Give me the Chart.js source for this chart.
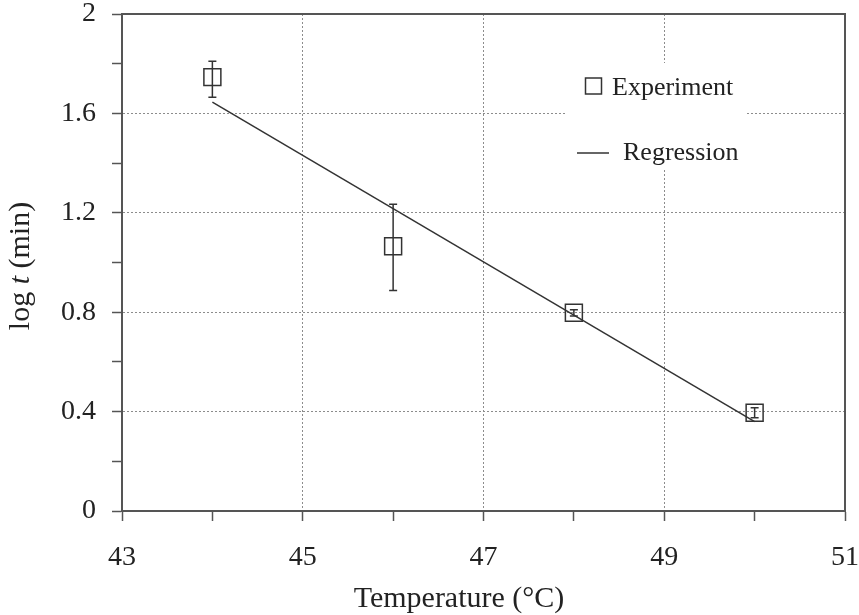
<!DOCTYPE html>
<html lang="en">
<head>
    <meta charset="UTF-8">
    <title>log t vs Temperature</title>
    <script src="https://cdn.jsdelivr.net/npm/chart.js"></script>
    <style>
        html, body { margin: 0; padding: 0; background: #fff; }
        .chart-container { width: 859px; height: 615px; }
    </style>
</head>
<body>
    <div class="chart-container">
        <canvas id="myChart"></canvas>
    </div>

    <script>
        // Datos
        const temps = [44, 46, 48, 50];
        const logT = [1.746, 1.065, 0.798, 0.395];
        const errLow = [1.665, 0.887, 0.785, 0.375];
        const errHigh = [1.81, 1.234, 0.81, 0.415];
        const regTemps = [44, 50];
        const regLogT = [1.645, 0.36];
        const xLabelTicks = [43, 45, 47, 49, 51];
        const yLabelTicks = [0, 0.4, 0.8, 1.2, 1.6, 2];
        const legendLabels = ['Experiment', 'Regression'];

        const serif = "'Liberation Serif', 'Times New Roman', serif";
        const ink = '#333';
        const axisColor = '#555';
        const gridColor = '#8c8c8c';

        const isIn = (list, v) => list.some(t => Math.abs(t - v) < 1e-6);

        // Barras de error
        const errorBars = {
            id: 'errorBars',
            afterDatasetsDraw(chart) {
                const { ctx, scales: { x, y } } = chart;
                ctx.save();
                ctx.strokeStyle = ink;
                ctx.lineWidth = 1.5;
                temps.forEach((t, i) => {
                    const px = x.getPixelForValue(t);
                    const top = y.getPixelForValue(errHigh[i]);
                    const bot = y.getPixelForValue(errLow[i]);
                    ctx.beginPath();
                    ctx.moveTo(px, top); ctx.lineTo(px, bot);
                    ctx.moveTo(px - 4, top); ctx.lineTo(px + 4, top);
                    ctx.moveTo(px - 4, bot); ctx.lineTo(px + 4, bot);
                    ctx.stroke();
                });
                ctx.restore();
            }
        };

        // Leyenda, marco y titulos de ejes
        const decorations = {
            id: 'decorations',
            afterDraw(chart) {
                const { ctx, chartArea: a } = chart;
                ctx.save();

                // marco superior y derecho
                ctx.strokeStyle = axisColor;
                ctx.lineWidth = 2;
                ctx.beginPath();
                ctx.moveTo(a.left, a.top); ctx.lineTo(a.right, a.top); ctx.lineTo(a.right, a.bottom);
                ctx.stroke();

                // leyenda con fondo blanco
                ctx.fillStyle = '#fff';
                ctx.fillRect(565, 63, 180, 105);
                ctx.strokeStyle = ink;
                ctx.lineWidth = 1.5;
                ctx.strokeRect(585.5, 78, 16, 16);
                ctx.beginPath();
                ctx.moveTo(577, 153); ctx.lineTo(609, 153);
                ctx.stroke();
                ctx.fillStyle = '#222';
                ctx.font = '26px ' + serif;
                ctx.textAlign = 'left';
                ctx.textBaseline = 'alphabetic';
                ctx.fillText(legendLabels[0], 612, 95);
                ctx.fillText(legendLabels[1], 623, 160);

                // titulo eje X
                ctx.font = '30px ' + serif;
                ctx.textAlign = 'center';
                ctx.fillText('Temperature (\u00B0C)', 459, 607);

                // titulo eje Y con t en cursiva
                const parts = [['log ', '30px ' + serif], ['t', 'italic 30px ' + serif], [' (min)', '30px ' + serif]];
                let total = 0;
                parts.forEach(p => { ctx.font = p[1]; total += ctx.measureText(p[0]).width; });
                ctx.translate(29, 266);
                ctx.rotate(-Math.PI / 2);
                ctx.textAlign = 'left';
                let cx = -total / 2;
                parts.forEach(p => {
                    ctx.font = p[1];
                    ctx.fillText(p[0], cx, 0);
                    cx += ctx.measureText(p[0]).width;
                });
                ctx.restore();
            }
        };

        const chartConfig = {
            type: 'scatter',
            data: {
                datasets: [
                    {
                        label: legendLabels[0],
                        data: temps.map((t, i) => ({ x: t, y: logT[i] })),
                        pointStyle: 'rect',
                        pointRadius: 12,
                        pointBorderWidth: 1.5,
                        pointBorderColor: ink,
                        pointBackgroundColor: 'rgba(0,0,0,0)',
                        showLine: false
                    },
                    {
                        label: legendLabels[1],
                        data: regTemps.map((t, i) => ({ x: t, y: regLogT[i] })),
                        showLine: true,
                        borderColor: ink,
                        borderWidth: 1.5,
                        pointRadius: 0
                    }
                ]
            },
            options: {
                responsive: true,
                maintainAspectRatio: false,
                animation: false,
                layout: { padding: { top: 2, right: 4, left: 0, bottom: 0 } },
                plugins: { legend: { display: false }, tooltip: { enabled: false } },
                scales: {
                    x: {
                        type: 'linear',
                        min: 43,
                        max: 51,
                        afterFit(scale) {
                            scale.height = 104;
                            scale.paddingLeft = 14;
                            scale.paddingRight = 14;
                        },
                        ticks: {
                            stepSize: 1,
                            autoSkip: false,
                            maxRotation: 0,
                            padding: 23,
                            color: '#222',
                            font: { family: serif, size: 28, lineHeight: 1 },
                            callback: v => isIn(xLabelTicks, v) ? String(v) : ''
                        },
                        grid: {
                            color: c => (c.tick && isIn(xLabelTicks, c.tick.value) && c.tick.value !== 43 && c.tick.value !== 51) ? gridColor : 'rgba(0,0,0,0)',
                            lineWidth: 1,
                            tickLength: 10,
                            tickColor: axisColor,
                            tickWidth: 1.5
                        },
                        border: { color: axisColor, width: 2, dash: [2, 2] }
                    },
                    y: {
                        min: 0,
                        max: 2,
                        afterFit(scale) {
                            scale.width = 122;
                            scale.paddingTop = 14;
                            scale.paddingBottom = 14;
                        },
                        ticks: {
                            stepSize: 0.2,
                            autoSkip: false,
                            padding: 16,
                            color: '#222',
                            font: { family: serif, size: 28, lineHeight: 1 },
                            callback: v => isIn(yLabelTicks, v) ? String(Math.round(v * 10) / 10) : ''
                        },
                        grid: {
                            color: c => (c.tick && isIn(yLabelTicks, c.tick.value) && c.tick.value > 0.01 && c.tick.value < 1.99) ? gridColor : 'rgba(0,0,0,0)',
                            lineWidth: 1,
                            tickLength: 10,
                            tickColor: axisColor,
                            tickWidth: 1.5
                        },
                        border: { color: axisColor, width: 2, dash: [2, 2] }
                    }
                }
            },
            plugins: [errorBars, decorations]
        };

        const myChart = new Chart(document.getElementById('myChart'), chartConfig);
    </script>
</body>
</html>
